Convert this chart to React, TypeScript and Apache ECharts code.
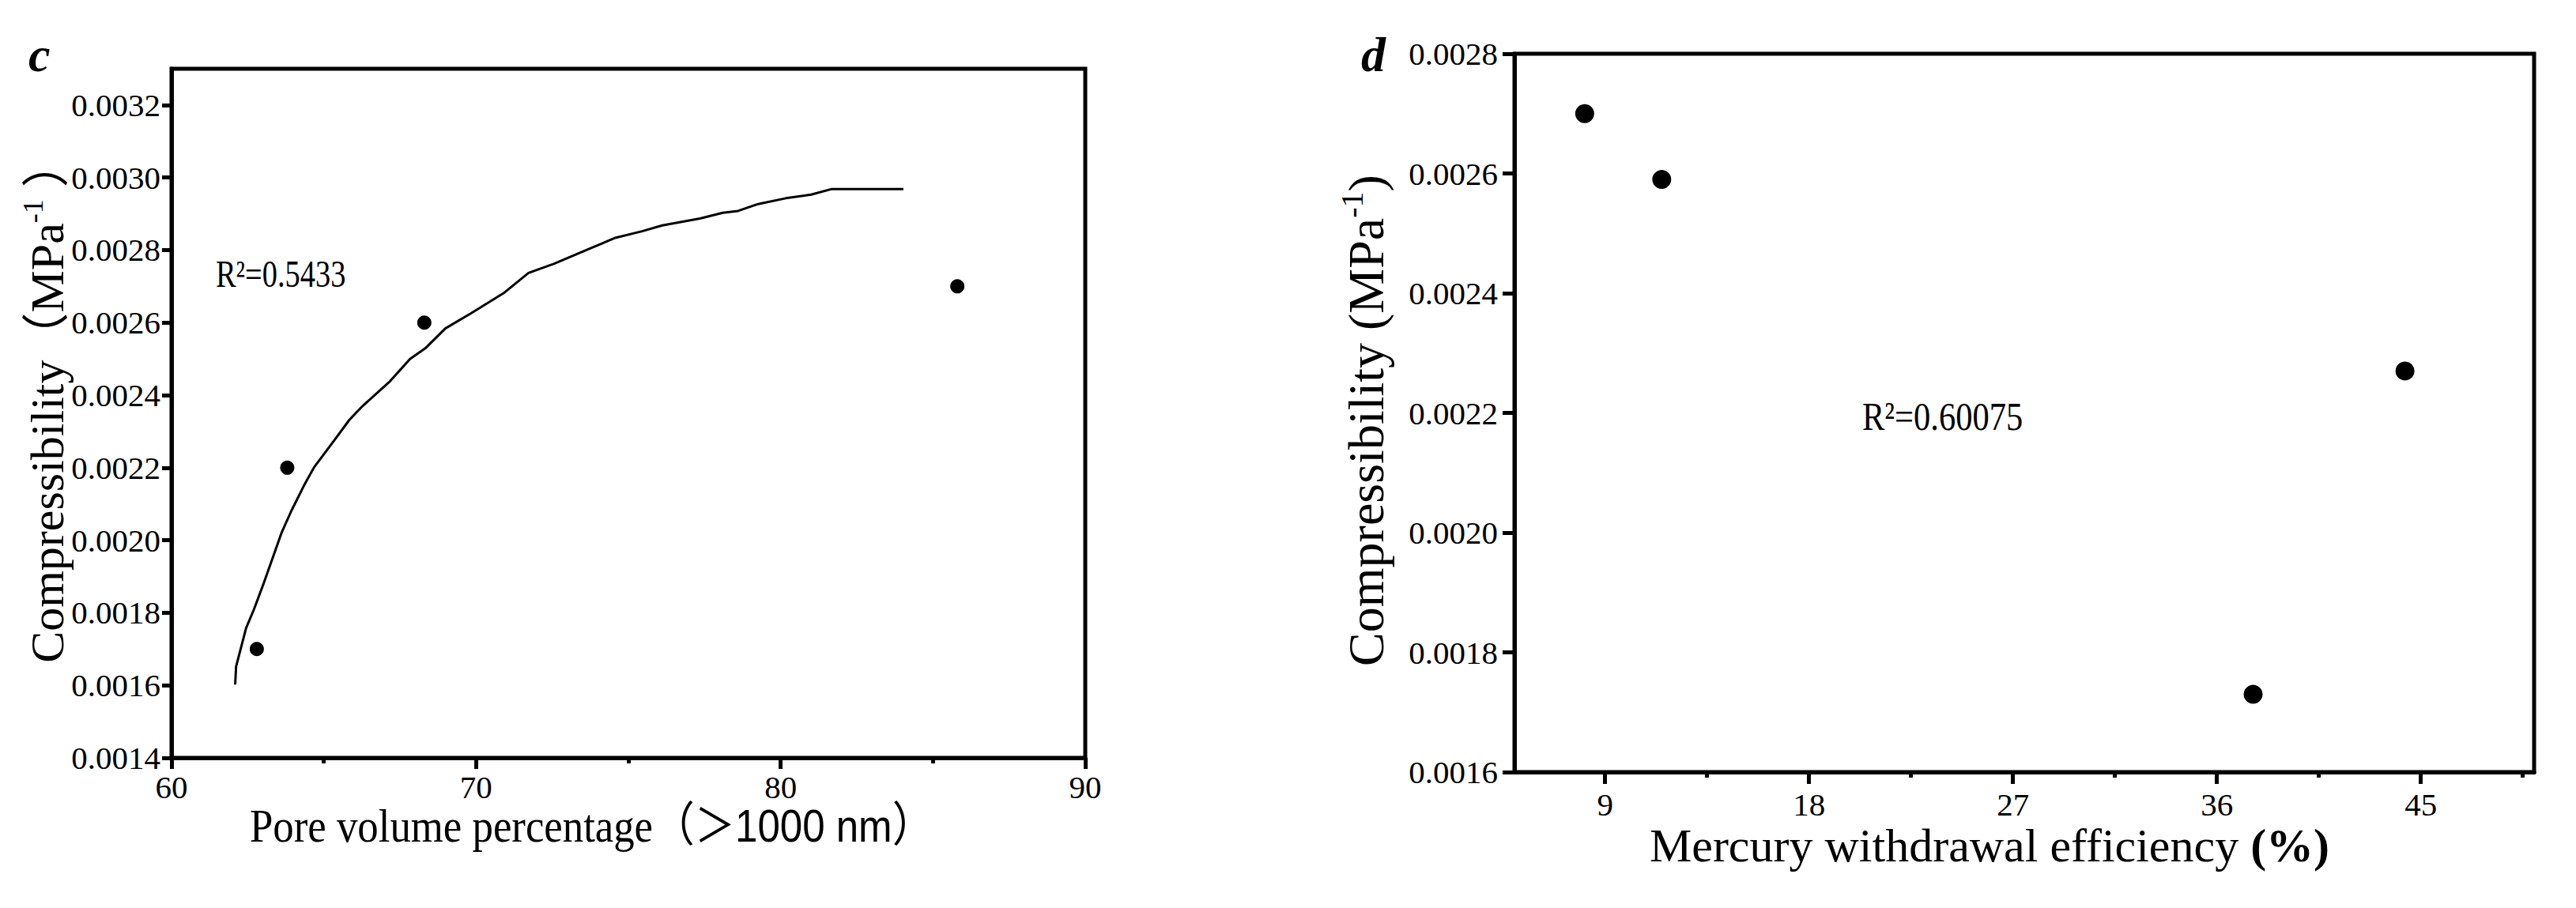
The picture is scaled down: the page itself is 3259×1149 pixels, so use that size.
import React, { useEffect, useRef } from "react";
import * as echarts from "echarts";

// ---- Panel c data ----
const cPointsX = [62.8, 63.8, 68.3, 85.8];
const cPointsY = [0.0017, 0.0022, 0.0026, 0.0027];
const cFitX = [62.09, 62.12, 62.45, 62.7, 63.03, 63.61, 63.94, 64.35, 64.68, 65.35, 65.84, 66.26, 67.17, 67.83, 68.33, 68.99, 69.82, 70.9, 71.72, 72.55, 73.79, 74.54, 75.45, 76.11, 77.35, 78.1, 78.6, 79.26, 80.17, 81.0, 81.66, 84.03];
const cFitY = [0.001602, 0.001652, 0.001758, 0.001808, 0.001882, 0.00202, 0.002082, 0.002151, 0.002201, 0.002276, 0.002332, 0.002369, 0.002438, 0.0025, 0.002529, 0.002584, 0.002625, 0.002681, 0.002737, 0.002762, 0.002806, 0.002833, 0.002852, 0.002868, 0.002887, 0.002903, 0.002908, 0.002927, 0.002943, 0.002953, 0.002968, 0.002968];
const cYTicks = [0.0014, 0.0016, 0.0018, 0.002, 0.0022, 0.0024, 0.0026, 0.0028, 0.003, 0.0032];
const cR2 = "R²=0.5433";

// ---- Panel d data ----
const dPointsX = [8.1, 11.5, 37.6, 44.3];
const dPointsY = [0.0027, 0.00259, 0.00173, 0.00227];
const dXTicks = [9, 18, 27, 36, 45];
const dXMinorTicks = [13.5, 22.5, 31.5, 40.5, 49.5];
const dR2 = "R²=0.60075";

const SERIF = "'Liberation Serif', 'Times New Roman', 'Noto Sans CJK SC', serif";
const SANSN = "'Liberation Sans Narrow', 'Liberation Sans', 'Noto Sans CJK SC', sans-serif";

const labelStyle = {
  color: "#000",
  fontFamily: SERIF,
  fontSize: 41,
};

function App() {
  const ref = useRef<HTMLDivElement | null>(null);

  useEffect(() => {
    if (!ref.current) return;
    const chart = echarts.init(ref.current, null, { renderer: "svg" });
    const fmt = (v: number) => Number(v).toFixed(4);

    const option: any = {
      animation: false,
      backgroundColor: "#fff",
      grid: [
        { left: 217, top: 87, width: 1156, height: 872, show: true, borderColor: "#000", borderWidth: 5, backgroundColor: "transparent" },
        { left: 1916, top: 68, width: 1290, height: 909, show: true, borderColor: "#000", borderWidth: 5, backgroundColor: "transparent" },
      ],
      xAxis: [
        {
          type: "value", gridIndex: 0, position: "bottom", min: 60, max: 90, interval: 10,
          axisLine: { onZero: false, lineStyle: { color: "#000", width: 5 } },
          axisTick: { length: 14, lineStyle: { color: "#000", width: 5 } },
          minorTick: { show: true, splitNumber: 2, length: 7, lineStyle: { color: "#000", width: 5 } },
          splitLine: { show: false }, minorSplitLine: { show: false },
          axisLabel: { ...labelStyle, margin: 16 },
        },
        {
          type: "value", gridIndex: 1, position: "bottom", min: 5, max: 50,
          axisLine: { onZero: false, lineStyle: { color: "#000", width: 5 } },
          axisTick: { customValues: dXTicks, length: 15, lineStyle: { color: "#000", width: 5 } },
          splitLine: { show: false },
          axisLabel: { ...labelStyle, margin: 20, customValues: dXTicks },
        },
        {
          type: "value", gridIndex: 1, position: "bottom", min: 5, max: 50,
          axisLine: { show: false, onZero: false },
          axisTick: { customValues: dXMinorTicks, length: 7, lineStyle: { color: "#000", width: 5 } },
          splitLine: { show: false },
          axisLabel: { show: false },
        },
      ],
      yAxis: [
        {
          type: "value", gridIndex: 0, position: "left", min: 0.0014, max: 0.0033,
          axisLine: { onZero: false, lineStyle: { color: "#000", width: 5 } },
          axisTick: { customValues: cYTicks, length: 12, lineStyle: { color: "#000", width: 5 } },
          splitLine: { show: false },
          axisLabel: { ...labelStyle, margin: 14, customValues: cYTicks, formatter: fmt },
        },
        {
          type: "value", gridIndex: 1, position: "left", min: 0.0016, max: 0.0028, interval: 0.0002,
          axisLine: { onZero: false, lineStyle: { color: "#000", width: 5 } },
          axisTick: { length: 15, lineStyle: { color: "#000", width: 5 } },
          splitLine: { show: false },
          axisLabel: { ...labelStyle, margin: 21, formatter: fmt },
        },
      ],
      series: [
        {
          type: "line", xAxisIndex: 0, yAxisIndex: 0,
          data: cFitX.map((x, i) => [x, cFitY[i]]),
          showSymbol: false, symbol: "none", smooth: false,
          lineStyle: { color: "#000", width: 3 },
        },
        {
          type: "scatter", xAxisIndex: 0, yAxisIndex: 0,
          data: cPointsX.map((x, i) => [x, cPointsY[i]]),
          symbol: "circle", symbolSize: 18,
          itemStyle: { color: "#000", opacity: 1 },
        },
        {
          type: "scatter", xAxisIndex: 1, yAxisIndex: 1,
          data: dPointsX.map((x, i) => [x, dPointsY[i]]),
          symbol: "circle", symbolSize: 24,
          itemStyle: { color: "#000", opacity: 1 },
        },
      ],
      graphic: [
        // panel letters
        { type: "text", x: 36, y: 69, style: { text: "c", font: `italic bold 62px ${SERIF}`, fill: "#000", textAlign: "left", textVerticalAlign: "middle" } },
        { type: "text", x: 1722, y: 69, style: { text: "d", font: `italic bold 62px ${SERIF}`, fill: "#000", textAlign: "left", textVerticalAlign: "middle" } },
        // R² annotations
        { type: "text", x: 273, y: 346, scaleX: 0.8, style: { text: cR2, font: `48px ${SERIF}`, fill: "#000", textAlign: "left", textVerticalAlign: "middle" } },
        { type: "text", x: 2356, y: 527, scaleX: 0.85, style: { text: dR2, font: `50px ${SERIF}`, fill: "#000", textAlign: "left", textVerticalAlign: "middle" } },
        // panel c axis names
        {
          type: "text", x: 316, y: 1045, scaleX: 0.88,
          style: {
            text: "{a|Pore volume percentage（}{b|＞1000 nm}{a|）}",
            fill: "#000", textAlign: "left", textVerticalAlign: "middle",
            rich: {
              a: { fontFamily: SERIF, fontSize: 60, fill: "#000" },
              b: { fontFamily: SANSN, fontSize: 58, fill: "#000" },
            },
          },
        },
        {
          type: "text", x: 60, y: 508, rotation: Math.PI / 2,
          style: {
            text: "{a|Compressibility（MPa}{s|-1}{a| ）}",
            fill: "#000", textAlign: "center", textVerticalAlign: "middle",
            rich: {
              a: { fontFamily: SERIF, fontSize: 60, fill: "#000", lineHeight: 72 },
              s: { fontFamily: SERIF, fontSize: 36, fill: "#000", verticalAlign: "top", lineHeight: 40 },
            },
          },
        },
        // panel d axis names
        {
          type: "text", x: 2517, y: 1070,
          style: {
            text: "{a|Mercury withdrawal efficiency }{b|(%)}",
            fill: "#000", textAlign: "center", textVerticalAlign: "middle",
            rich: {
              a: { fontFamily: SERIF, fontSize: 60, fill: "#000" },
              b: { fontFamily: SERIF, fontSize: 60, fontWeight: "bold", fill: "#000" },
            },
          },
        },
        {
          type: "text", x: 1728, y: 532, rotation: Math.PI / 2, scaleX: 1.0,
          style: {
            text: "{a|Compressibility (MPa}{s|-1}{a|)}",
            fill: "#000", textAlign: "center", textVerticalAlign: "middle",
            rich: {
              a: { fontFamily: SERIF, fontSize: 64, fill: "#000", lineHeight: 76 },
              s: { fontFamily: SERIF, fontSize: 40, fill: "#000", verticalAlign: "top", lineHeight: 44 },
            },
          },
        },
      ],
    };

    chart.setOption(option);
    return () => {
      chart.dispose();
    };
  }, []);

  return (
    <div
      ref={ref}
      style={{ position: "fixed", left: 0, top: 0, width: 3259, height: 1149, background: "#fff" }}
    />
  );
}

export default App;
